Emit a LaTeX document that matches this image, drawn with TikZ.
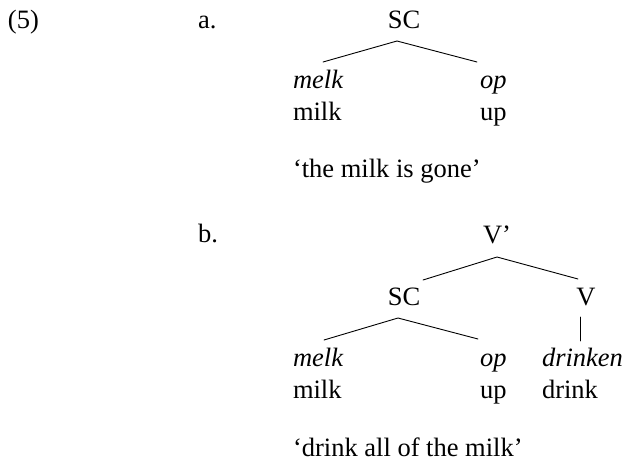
\documentclass[tikz,border=0pt]{standalone}
\usepackage{fontspec}
\setmainfont{Liberation Serif}
\begin{document}
\begin{tikzpicture}[x=1pt,y=-1pt,
  lbl/.style={inner sep=0pt, outer sep=0pt, font=\fontsize{26.5}{31.8}\selectfont},
  lw/.style={lbl, anchor=base west},
  lc/.style={lbl, anchor=base},
  branch/.style={line width=0.9pt, line cap=round}]
\useasboundingbox (0,0) rectangle (624,461);

% example number and sub-labels
\node[lw] (ex) at (8,28) {(5)};
\node[lw] (la) at (198,28) {a.};
\node[lw] (lb) at (198,242) {b.};

% (a) small clause tree
\node[lc] (scA) at (404,28) {SC};
\node[lw] (melkA) at (293,88) {\itshape melk};
\node[lw] (milkA) at (293,120) {milk};
\node[lw] (opA) at (480,88) {\itshape op};
\node[lw] (upA) at (480,120) {up};
\node[lw] (glossA) at (293,177) {‘the milk is gone’};

\coordinate (scA-bot) at (397,41);
\coordinate (melkA-top) at (323,62);
\coordinate (opA-top) at (477,62);
\draw[branch] (melkA-top) -- (scA-bot) -- (opA-top);

% (b) V-bar tree
\node[lc] (vbar) at (497,243) {V’};
\node[lc] (scB) at (404,305) {SC};
\node[lc] (vB) at (586,305) {V};
\node[lw] (melkB) at (293,366) {\itshape melk};
\node[lw] (milkB) at (293,398) {milk};
\node[lw] (opB) at (480,366) {\itshape op};
\node[lw] (upB) at (480,398) {up};
\node[lw] (drinken) at (542,366) {\itshape drinken};
\node[lw] (drink) at (542,398) {drink};
\node[lw] (glossB) at (293,456) {‘drink all of the milk’};

\coordinate (vbar-bot) at (497,257);
\coordinate (scB-top) at (423,280);
\coordinate (vB-top) at (578,279);
\draw[branch] (scB-top) -- (vbar-bot) -- (vB-top);

\coordinate (scB-bot) at (398,318);
\coordinate (melkB-top) at (324,340);
\coordinate (opB-top) at (478,339);
\draw[branch] (melkB-top) -- (scB-bot) -- (opB-top);

\coordinate (vB-bot) at (580,317);
\coordinate (drinken-top) at (580,341);
\draw[branch] (vB-bot) -- (drinken-top);
\end{tikzpicture}
\end{document}
